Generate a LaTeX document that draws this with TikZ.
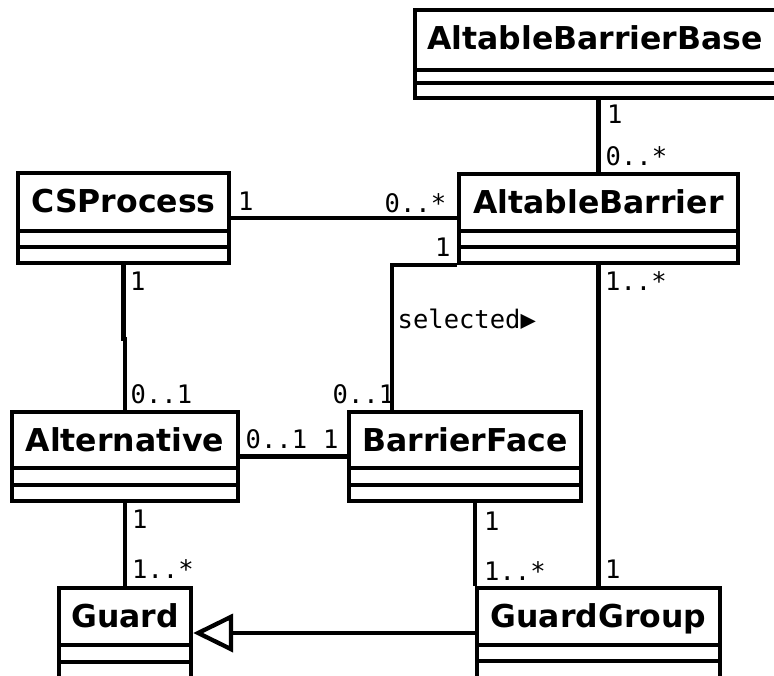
\documentclass[tikz,border=0pt]{standalone}
\usepackage{fontspec}
\usetikzlibrary{arrows.meta,fit,calc}
\newfontfamily\titlefont{DejaVu Sans}
\newfontfamily\multfont{DejaVu Sans Mono}

\tikzset{
  umlbox/.style={draw, line width=4.3pt, inner sep=0pt, fill=white},
  compline/.style={line width=4.3pt},
  classtitle/.style={font=\titlefont\bfseries\fontsize{31.5}{31.5}\selectfont, anchor=base, inner sep=0pt},
  mult/.style={font=\multfont\fontsize{25.5}{25.5}\selectfont, anchor=base west, inner sep=0pt},
  assoc/.style={line width=4.3pt},
  inherit/.style={line width=4.3pt, -{Triangle[open, length=40pt, width=38pt]}},
}

% UML class box: name, left, top, right, bottom, first rule, second rule, title, title centre x
\newcommand\umlclass[9]{%
  \node[umlbox, fit={(#2,#3) (#4,#5)}] (#1) {};
  \draw[compline] (#2,#6) -- (#4,#6) (#2,#7) -- (#4,#7);
  \node[classtitle] (#1-title) at (#9,#3+39.5) {#8};
}

\begin{document}
\begin{tikzpicture}[x=1pt,y=-1pt]
  \path[use as bounding box, clip] (0,0) rectangle (774,675);

  % classes
  \umlclass{abb}{415}{10}{790}{98}{70}{83}{AltableBarrierBase}{595}
  \umlclass{cs}{18}{173}{229}{263}{231}{247}{CSProcess}{123.5}
  \umlclass{ab}{459}{174}{738}{263}{231}{247}{AltableBarrier}{598.5}
  \umlclass{alt}{12}{412}{238}{501}{468}{485}{Alternative}{125}
  \umlclass{bf}{349}{412}{581}{501}{468}{485}{BarrierFace}{465}
  \umlclass{guard}{59}{588}{191}{678}{645}{662}{Guard}{125}
  \umlclass{gg}{477}{588}{720}{678}{645}{661}{GuardGroup}{598.5}

  % associations
  \draw[assoc] (abb.south -| ab.north) -- (ab.north);
  \draw[assoc] (cs.east) -- (cs.east -| ab.west);
  \draw[assoc] (cs.south) -- ++(0,74) -| (alt.north);
  \draw[assoc] (ab.south west) -| ($(bf.north west)+(45,0)$);
  \draw[assoc] (ab.south) -- (ab.south |- gg.north);
  \draw[assoc] (alt.east) -- (alt.east -| bf.west);
  \draw[assoc] (alt.south) -- (alt.south |- guard.north);
  \draw[assoc] (bf.south -| gg.north west) -- (gg.north west);

  % generalisation
  \draw[inherit] (gg.west |- guard.east) -- (guard.east);

  % multiplicities and role names
  \node[mult] (m-abb) at (607,123) {1};
  \node[mult] (m-ab-top) at (605.5,165) {0..*};
  \node[mult] (m-cs-east) at (238,210) {1};
  \node[mult] (m-ab-west) at (384.5,212) {0..*};
  \node[mult] (m-ab-sel) at (435,256) {1};
  \node[mult] (m-ab-gg) at (605,290) {1..*};
  \node[mult] (m-sel) at (397.5,328) {selected▶};
  \node[mult] (m-bf-sel) at (332.5,403) {0..1};
  \node[mult] (m-cs-south) at (130,290) {1};
  \node[mult] (m-alt-north) at (130.5,403) {0..1};
  \node[mult] (m-alt-east) at (245.5,448) {0..1};
  \node[mult] (m-bf-west) at (323,448) {1};
  \node[mult] (m-alt-south) at (132,528) {1};
  \node[mult] (m-guard) at (132,578) {1..*};
  \node[mult] (m-bf-south) at (484,530) {1};
  \node[mult] (m-gg-bf) at (484,580) {1..*};
  \node[mult] (m-gg-ab) at (605,578) {1};
\end{tikzpicture}
\end{document}
